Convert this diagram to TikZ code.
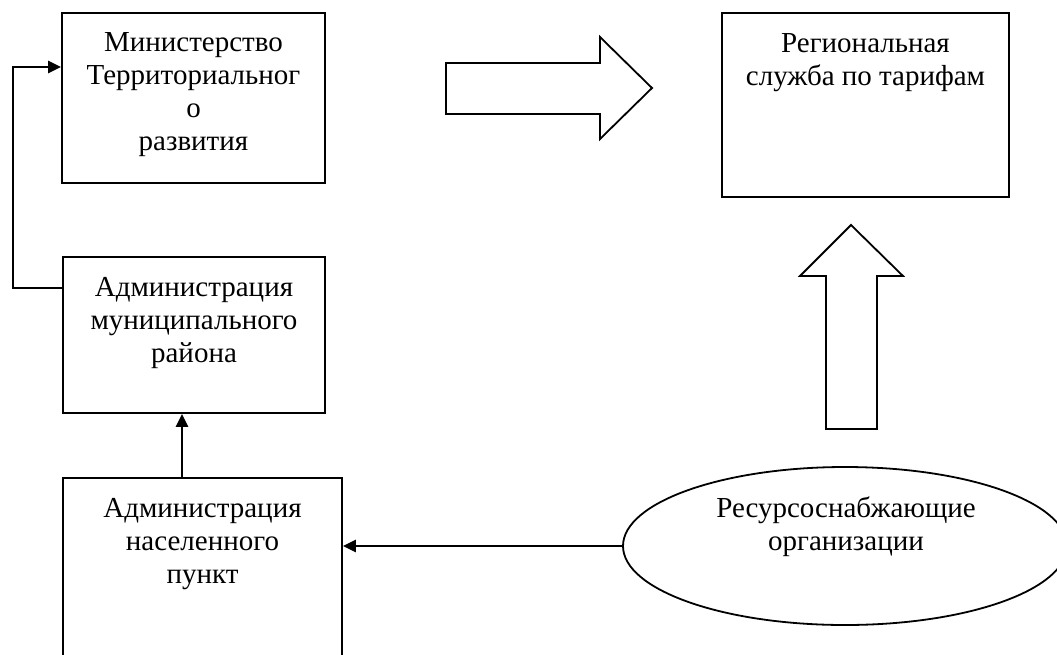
\documentclass[tikz,border=0pt]{standalone}
\usepackage{fontspec}
\setmainfont{Liberation Serif}
\usetikzlibrary{arrows.meta,shapes.geometric,calc}
\begin{document}
\begin{tikzpicture}[x=1pt,y=-1pt,
  box/.style={draw,line width=1.8pt,rectangle,inner sep=0pt},
  txt/.style={align=center,anchor=base,inner sep=0pt,font=\fontsize{29}{33}\selectfont},
  conn/.style={line width=2.4pt,-{Triangle[length=13pt,width=12pt]}},
  blockarrow/.style={draw,line width=1.8pt,line join=miter,fill=white}]
\useasboundingbox (0,0) rectangle (1057,654);
\clip (0,0) rectangle (1057,654);
% boxes
\node[box,minimum width=263pt,minimum height=170pt] (b1) at (193.5,98) {};
\node[box,minimum width=262pt,minimum height=156pt] (b2) at (194,335) {};
\node[box,minimum width=279pt,minimum height=192pt] (b3) at (202.5,574) {};
\node[box,minimum width=287pt,minimum height=184pt] (b4) at (865.5,105) {};
\node[draw,line width=1.8pt,ellipse,minimum width=444pt,minimum height=158pt,inner sep=0pt] (e) at (845,546) {};
% texts (anchor = baseline of last line)
\node[txt] (t1) at (193.5,150) {Министерство\\Территориальног\\о\\развития};
\node[txt] (t2) at (194,362) {Администрация\\муниципального\\района};
\node[txt] (t3) at (202.5,583) {Администрация\\населенного\\пункт};
\node[txt] (t4) at (865.5,85) {Региональная\\служба по тарифам};
\node[txt] (t5) at (846,550) {Ресурсоснабжающие\\организации};
% connectors
\coordinate (c1) at (13,288);
\draw[conn] (b2.west |- c1) -- (c1) |- (b1.west |- 0,67);
\draw[conn] (b3.north -| 182,0) -- (b2.south -| 182,0);
\draw[conn] (e.west) -- (b3.east |- e.west);
% block arrows
\draw[blockarrow] (446,63) -- (600,63) -- (600,37) -- (652,88) -- (600,139) -- (600,114) -- (446,114) -- cycle;
\draw[blockarrow] (826,429) -- (826,276) -- (800,276) -- (851,225) -- (903,276) -- (877,276) -- (877,429) -- cycle;
\end{tikzpicture}
\end{document}
